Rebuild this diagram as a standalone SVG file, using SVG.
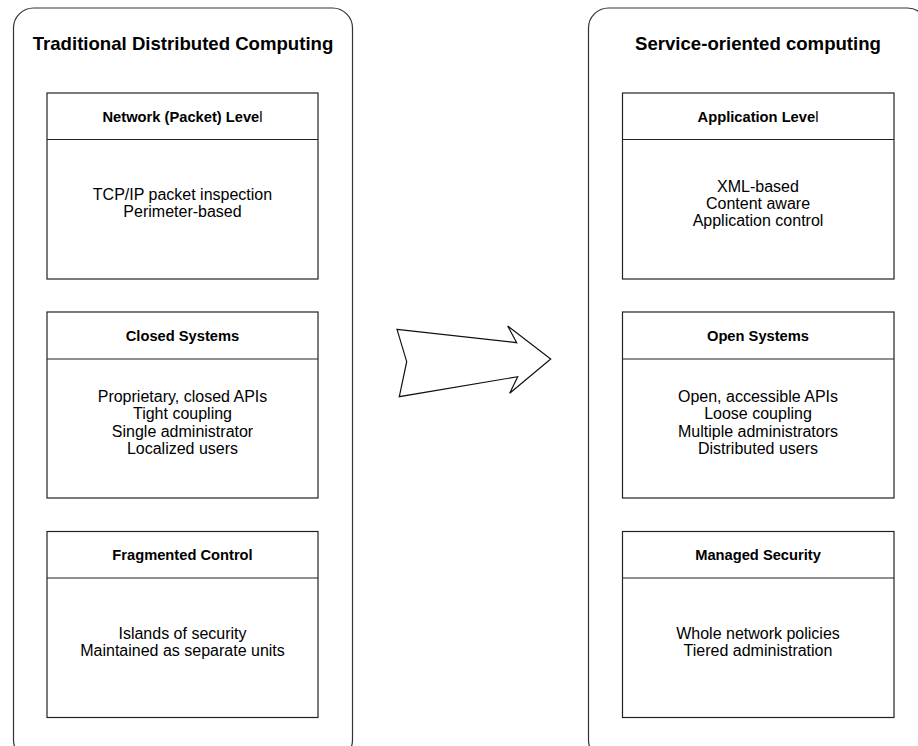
<svg xmlns="http://www.w3.org/2000/svg" width="918" height="746" viewBox="0 0 918 746">
  <style>
    .panel { fill: #ffffff; stroke: #333333; stroke-width: 1.2; }
    .box { fill: #ffffff; stroke: #222222; stroke-width: 1.2; }
    .rule { stroke: #222222; stroke-width: 1.2; }
    .title { font-family: "Liberation Sans", Arial, sans-serif; font-size: 18.6px; font-weight: bold; fill: #000; text-anchor: middle; }
    .head { font-family: "Liberation Sans", Arial, sans-serif; font-size: 14.7px; font-weight: bold; fill: #000; text-anchor: middle; }
    .body { font-family: "Liberation Sans", Arial, sans-serif; font-size: 16px; fill: #000; text-anchor: middle; }
    .thin { font-weight: normal; }
    .arrow { fill: #ffffff; stroke: #111111; stroke-width: 1.2; stroke-linejoin: miter; }
  </style>

  <rect width="918" height="746" fill="#ffffff"/>

  <!-- left column: traditional model -->
  <g id="traditional">
    <rect class="panel" x="13.5" y="8" width="339" height="752" rx="20" ry="20"/>
    <text class="title" x="183" y="50">Traditional Distributed Computing</text>
  </g>

  <g id="network-level">
    <rect class="box" x="47" y="93" width="271" height="186"/>
    <line class="rule" x1="47" y1="139.5" x2="318" y2="139.5"/>
    <text class="head" x="182.5" y="121.5">Network (Packet) Leve<tspan class="thin">l</tspan></text>
    <text class="body" x="182.5" y="200">TCP/IP packet inspection</text>
    <text class="body" x="182.5" y="217">Perimeter-based</text>
  </g>

  <g id="closed-systems">
    <rect class="box" x="47" y="312" width="271" height="186"/>
    <line class="rule" x1="47" y1="359" x2="318" y2="359"/>
    <text class="head" x="182.5" y="340.5">Closed Systems</text>
    <text class="body" x="182.5" y="402">Proprietary, closed APIs</text>
    <text class="body" x="182.5" y="419.3">Tight coupling</text>
    <text class="body" x="182.5" y="436.6">Single administrator</text>
    <text class="body" x="182.5" y="454">Localized users</text>
  </g>

  <g id="fragmented-control">
    <rect class="box" x="47" y="531.5" width="271" height="186"/>
    <line class="rule" x1="47" y1="578" x2="318" y2="578"/>
    <text class="head" x="182.5" y="560">Fragmented Control</text>
    <text class="body" x="182.5" y="638.5">Islands of security</text>
    <text class="body" x="182.5" y="656">Maintained as separate units</text>
  </g>

  <!-- right column: service-oriented model -->
  <g id="service-oriented">
    <rect class="panel" x="588.5" y="8" width="339" height="752" rx="20" ry="20"/>
    <text class="title" x="758" y="50">Service-oriented computing</text>
  </g>

  <g id="application-level">
    <rect class="box" x="622.5" y="93" width="271.5" height="186"/>
    <line class="rule" x1="622.5" y1="139.5" x2="894" y2="139.5"/>
    <text class="head" x="758" y="121.5">Application Leve<tspan class="thin">l</tspan></text>
    <text class="body" x="758" y="191.5">XML-based</text>
    <text class="body" x="758" y="208.8">Content aware</text>
    <text class="body" x="758" y="226">Application control</text>
  </g>

  <g id="open-systems">
    <rect class="box" x="622.5" y="312" width="271.5" height="186"/>
    <line class="rule" x1="622.5" y1="359" x2="894" y2="359"/>
    <text class="head" x="758" y="340.5">Open Systems</text>
    <text class="body" x="758" y="402">Open, accessible APIs</text>
    <text class="body" x="758" y="419.3">Loose coupling</text>
    <text class="body" x="758" y="436.6">Multiple administrators</text>
    <text class="body" x="758" y="454">Distributed users</text>
  </g>

  <g id="managed-security">
    <rect class="box" x="622.5" y="531.5" width="271.5" height="186"/>
    <line class="rule" x1="622.5" y1="578" x2="894" y2="578"/>
    <text class="head" x="758" y="560">Managed Security</text>
    <text class="body" x="758" y="638.5">Whole network policies</text>
    <text class="body" x="758" y="656">Tiered administration</text>
  </g>

  <!-- transition arrow between the two models -->
  <g id="connectors">
    <polygon class="arrow" points="397,329.3 516.7,342.7 507.7,326 550.7,359 509.7,393.3 517.7,376.7 399.3,396.7 406.7,361.7"/>
  </g>
</svg>
